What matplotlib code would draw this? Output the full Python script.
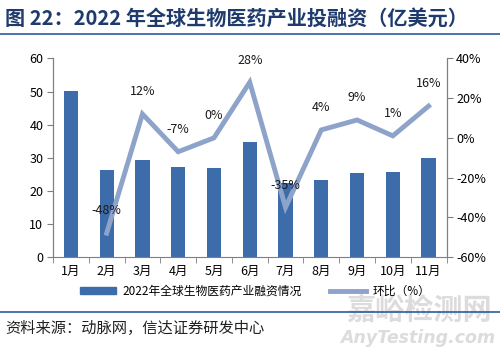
import matplotlib.pyplot as plt
from matplotlib.lines import Line2D

plt.rcParams['font.family'] = ['Noto Sans CJK SC', 'DejaVu Sans']

months = ["1月", "2月", "3月", "4月", "5月", "6月", "7月", "8月", "9月", "10月", "11月"]
funding = [50.2, 26.2, 29.2, 27.1, 27.0, 34.8, 22.5, 23.2, 25.4, 25.6, 29.9]
mom_pct = [-48, 12, -7, 0, 28, -35, 4, 9, 1, 16]

BAR = "#3D6CAB"
LINE = "#8DA3C9"
AXIS = "#7F7F7F"
NAVY = "#1F3B6E"

fig = plt.figure(figsize=(5, 3.54), dpi=100)
ax = fig.add_axes([0.106, 0.274, 0.787, 0.561])
ax2 = ax.twinx()

x = list(range(len(months)))
ax.bar(x, funding, width=0.4, color=BAR, zorder=2)
ax.set_xlim(-0.5, len(months) - 0.5)
ax.set_ylim(0, 60)
ax.set_yticks(range(0, 61, 10))
ax.set_xticks(x)
ax.set_xticklabels(months)
ax.set_xticks([i + 0.5 for i in range(-1, len(months))], minor=True)
ax.tick_params(axis="x", which="major", length=0, pad=6, labelsize=9)
ax.tick_params(axis="x", which="minor", length=4, color=AXIS, direction="out")
ax.tick_params(axis="y", length=4, color=AXIS, labelsize=9, pad=3)

# month-on-month line starts at Feb
xm = x[1:]
ax2.plot(xm, mom_pct, color=LINE, lw=3.5, solid_joinstyle="miter", zorder=3)
ax2.set_ylim(-60, 40)
ax2.set_yticks(range(-60, 41, 20))
ax2.set_yticklabels([f"{v}%" for v in range(-60, 41, 20)])
ax2.tick_params(axis="y", length=4, color=AXIS, labelsize=9, pad=3)
for xi, v in zip(xm, mom_pct):
    ax2.annotate(f"{v}%", (xi, v), xytext=(0, 16), textcoords="offset points",
                 ha="center", va="center", fontsize=9, color="#1a1a1a")

for a in (ax, ax2):
    a.spines["top"].set_visible(False)
    for s in ("left", "right", "bottom"):
        a.spines[s].set_color(AXIS)
ax2.spines["bottom"].set_visible(False)

# watermark (behind everything else)
fig.text(0.837, 0.121, "嘉峪检测网", fontsize=21, fontweight="bold",
         color="#dcdcdc", ha="center", va="center", zorder=0)
fig.text(0.835, 0.045, "AnyTesting.com", fontsize=12.5, fontweight="bold",
         style="italic", color="#dcdcdc", ha="center", va="center",
         family="DejaVu Sans", zorder=0)

handles = [plt.Rectangle((0, 0), 1, 1, color=BAR),
           Line2D([], [], color=LINE, lw=3.5)]
fig.legend(handles, ["2022年全球生物医药产业融资情况", "环比（%）"],
           loc="center", bbox_to_anchor=(0.51, 0.178), ncol=2, frameon=False,
           fontsize=8.5, handlelength=3.1, handleheight=0.55, columnspacing=2.4,
           handletextpad=0.5)

fig.text(0.01, 0.948, "图 22：2022 年全球生物医药产业投融资（亿美元）",
         fontsize=14.5, fontweight="bold", color=NAVY, va="center")
fig.add_artist(Line2D([0, 1], [0.905, 0.905], color="#2E5C99", lw=1.2))
fig.add_artist(Line2D([0, 1], [0.12, 0.12], color="#2E5C99", lw=1.2))
fig.text(0.01, 0.073, "资料来源：动脉网，信达证券研发中心", fontsize=11,
         color="#222222", va="center")

fig.savefig("out.png", dpi=100)
